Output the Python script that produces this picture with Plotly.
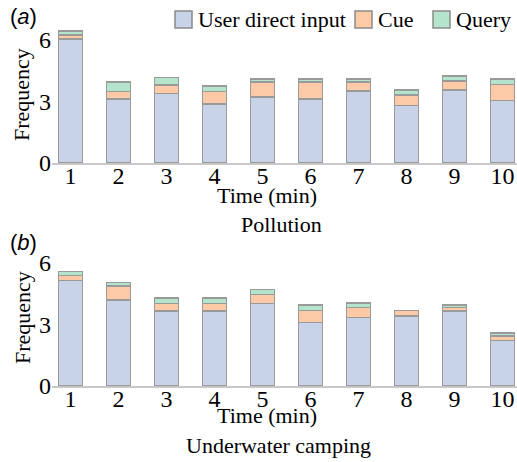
import plotly.graph_objects as go

# ---- data ----
minutes = [1, 2, 3, 4, 5, 6, 7, 8, 9, 10]
tick_labels = ["1", "2", "3", "4", "5", "6", "7", "8", "9", "10"]
series_names = ["User direct input", "Cue", "Query"]

pollution_user = [6.05, 3.12, 3.40, 2.88, 3.23, 3.12, 3.51, 2.80, 3.56, 3.04]
pollution_cue = [0.20, 0.36, 0.40, 0.60, 0.73, 0.84, 0.45, 0.52, 0.44, 0.80]
pollution_query = [0.20, 0.46, 0.38, 0.28, 0.13, 0.13, 0.13, 0.24, 0.24, 0.26]

camping_user = [5.14, 4.20, 3.67, 3.67, 4.03, 3.09, 3.33, 3.41, 3.67, 2.21]
camping_cue = [0.24, 0.68, 0.36, 0.36, 0.44, 0.59, 0.51, 0.28, 0.17, 0.24]
camping_query = [0.20, 0.18, 0.27, 0.27, 0.24, 0.28, 0.20, 0.00, 0.11, 0.13]

colors = ["#c9d3e7", "#fccaa6", "#b4e4cc"]
edge = "#9a9a9a"

W, H = 517, 462
SERIF = "Liberation Serif, Times New Roman, serif"
SANS = "Liberation Sans, Arial, sans-serif"


def py(px):
    return 1 - px / H


def pxx(px):
    return px / W


fig = go.Figure()

panels = [
    ("x", "y", [pollution_user, pollution_cue, pollution_query]),
    ("x2", "y2", [camping_user, camping_cue, camping_query]),
]
for xa, ya, vals in panels:
    for name, v, c in zip(series_names, vals, colors):
        fig.add_trace(go.Bar(
            x=minutes, y=v, name=name, xaxis=xa, yaxis=ya,
            marker=dict(color=c, line=dict(color=edge, width=1.5)),
            width=0.5, showlegend=False,
        ))

x_left = 52 / W
xrange_ = [0.615, 10.30]
yr = [0, 6.6]

axis_common_x = dict(
    range=xrange_, tickmode="array", tickvals=minutes, ticktext=tick_labels,
    showline=True, linecolor="#c8c8c8", linewidth=1.5, ticks="",
    showgrid=False, zeroline=False, ticklabelstandoff=-10,
    tickfont=dict(family=SERIF, size=24, color="black"),
)
axis_common_y = dict(
    range=yr, tickmode="array", tickvals=[0, 3, 6],
    showline=False, showgrid=False, zeroline=False, ticks="",
    tickfont=dict(family=SERIF, size=24, color="black"),
)

fig.update_layout(
    width=W, height=H,
    margin=dict(l=0, r=0, t=0, b=0, autoexpand=False),
    paper_bgcolor="white", plot_bgcolor="white",
    barmode="stack", bargap=0.5,
    showlegend=False,
    font=dict(family=SERIF, size=22, color="black"),
    xaxis=dict(domain=[x_left, 1], anchor="y", **axis_common_x),
    yaxis=dict(domain=[py(163), py(163 - 6.6 * 20.5)], anchor="x", **axis_common_y),
    xaxis2=dict(domain=[x_left, 1], anchor="y2", **axis_common_x),
    yaxis2=dict(domain=[py(386), py(386 - 6.6 * 20.5)], anchor="x2", **axis_common_y),
)

# legend (boxes + real text)
legend_boxes = [175, 355, 433]
for name, c, bx in zip(series_names, colors, legend_boxes):
    fig.add_shape(type="rect", xref="paper", yref="paper",
                  x0=pxx(bx), x1=pxx(bx + 17), y0=py(28), y1=py(11),
                  fillcolor=c, line=dict(color="#8a8a8a", width=1.5))
    fig.add_annotation(text=name, x=pxx(bx + 21), y=py(19.5), xref="paper", yref="paper",
                       xanchor="left", yanchor="middle", showarrow=False,
                       font=dict(family=SERIF, size=22, color="black"))

annots = [
    ("Time (min)", 267, 195, 0, SERIF),
    ("Pollution", 281, 224, 0, SERIF),
    ("Time (min)", 267, 415, 0, SERIF),
    ("Underwater camping", 278, 445, 0, SERIF),
    ("Frequency", 22, 95, -90, SERIF),
    ("Frequency", 22, 318, -90, SERIF),
    ("(<i>a</i>)", 23, 16, 0, SANS),
    ("(<i>b</i>)", 23, 242, 0, SANS),
]
for text, xpx, ypx, ang, fam in annots:
    fig.add_annotation(
        text=text, x=pxx(xpx), y=py(ypx), xref="paper", yref="paper",
        xanchor="center", yanchor="middle", showarrow=False, textangle=ang,
        font=dict(family=fam, size=22, color="black"),
    )

fig.write_html(
    "out.html",
    config={"displayModeBar": False},
    post_script="document.body.style.margin='0';document.body.style.overflow='hidden';",
)
